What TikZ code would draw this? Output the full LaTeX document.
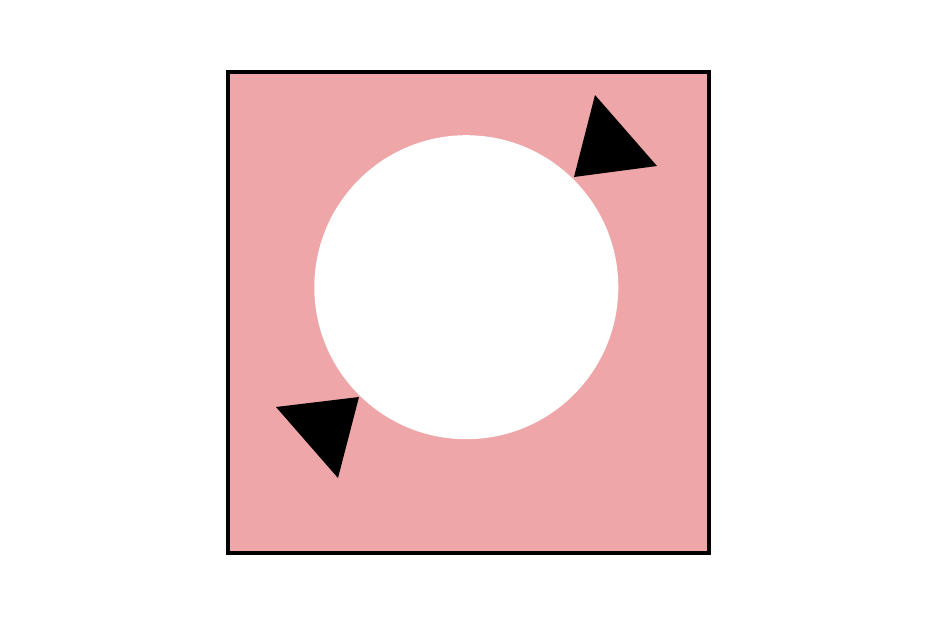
\documentclass[tikz,border=0pt]{standalone}
\begin{document}
\begin{tikzpicture}[x=1pt,y=-1pt]
\definecolor{pinkfill}{HTML}{EEA6A8}
\tikzset{tri/.style={fill=black}}
\useasboundingbox (0,0) rectangle (938,625);
\fill[white] (0,0) rectangle (938,625);
\draw[fill=pinkfill, line width=4] (228,71.5) rectangle (709,553);
\fill[white] (466.3,287.2) circle (152);
\fill[tri] (595,95) -- (657,166) -- (574,177) -- cycle;
\fill[tri] (276,407) -- (359,397) -- (338,478) -- cycle;
\end{tikzpicture}
\end{document}
